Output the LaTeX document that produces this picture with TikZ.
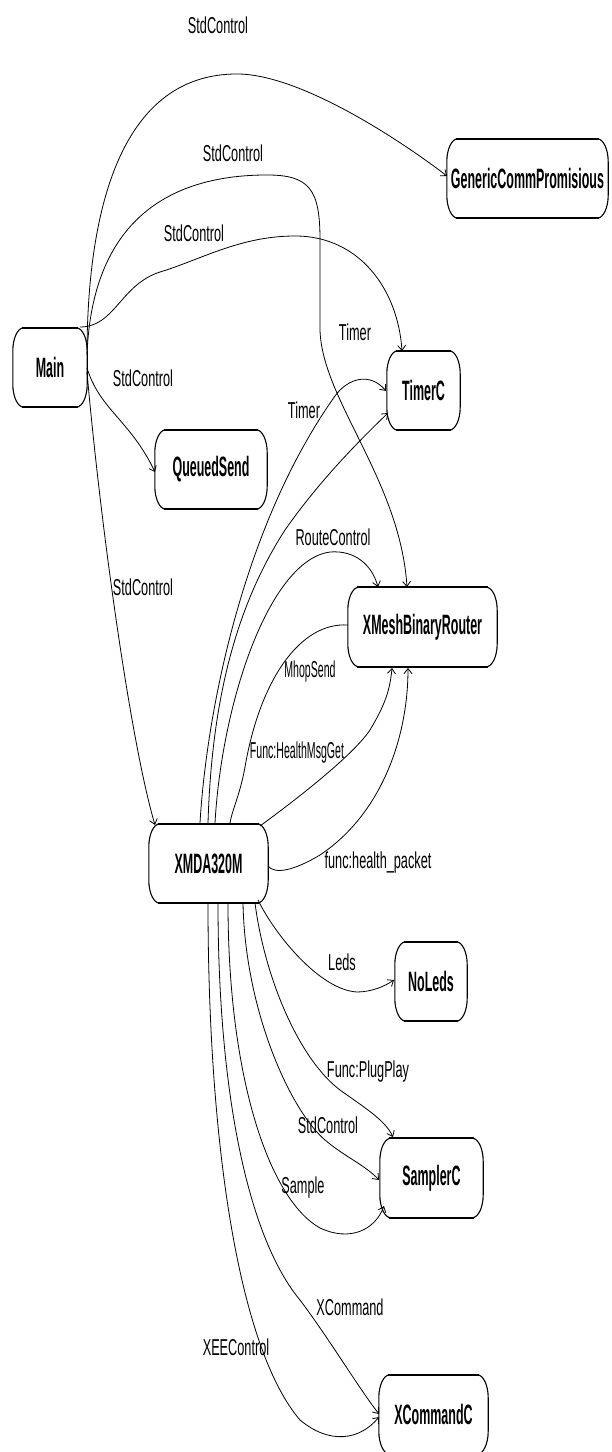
\documentclass[tikz,border=0pt]{standalone}
\usepackage{fontspec}
\usetikzlibrary{arrows.meta}
\newfontfamily\compfont[FakeStretch=0.445]{Liberation Sans}
\newfontfamily\labfont[FakeStretch=0.553]{Liberation Sans}
\newfontfamily\labfontn[FakeStretch=0.46]{Liberation Sans}
\newcommand\compoutline[1]{%
  \draw[boxline] ([xshift=11pt]#1.north west) -- ([xshift=-11pt]#1.north east)
    arc[start angle=90, end angle=0, x radius=11pt, y radius=23pt]
    -- ([yshift=23pt]#1.south east)
    arc[start angle=0, end angle=-90, x radius=11pt, y radius=23pt]
    -- ([xshift=11pt]#1.south west)
    arc[start angle=-90, end angle=-180, x radius=11pt, y radius=23pt]
    -- ([yshift=-23pt]#1.north west)
    arc[start angle=180, end angle=90, x radius=11pt, y radius=23pt] -- cycle;
  \draw[boxedge] ([xshift=9pt]#1.north west) -- ([xshift=-9pt]#1.north east);
  \draw[boxedge] ([xshift=9pt]#1.south west) -- ([xshift=-9pt]#1.south east);}
\tikzset{
  comp/.style={inner sep=0pt, minimum height=79pt,
    font=\compfont\bfseries\fontsize{28}{30}\selectfont},
  boxline/.style={line width=1.1pt, black},
  boxedge/.style={line width=2pt, black},
  lab/.style={inner sep=0pt, font=\labfont\fontsize{23}{25}\selectfont},
  labn/.style={inner sep=0pt, font=\labfontn\fontsize{23}{25}\selectfont},
  edge/.style={line width=0.8pt, black},
  arr/.style={-{Straight Barb[length=5pt,width=8pt]}}
}
\begin{document}
\begin{tikzpicture}[x=1pt,y=1pt]
\useasboundingbox (0,0) rectangle (612,1452);
\fill[white] (0,0) rectangle (612,1452);

% components
\node[comp, minimum width=74pt]  (Main)  at (50,1084.5)  {Main};
\node[comp, minimum width=161pt] (GCP)   at (527.5,1273.5) {GenericCommPromisious};
\node[comp, minimum width=73pt]  (TimerC) at (423.5,1061.5) {TimerC};
\node[comp, minimum width=112pt] (QS)    at (211,982.5)  {QueuedSend};
\node[comp, minimum width=149pt] (XMBR)  at (422.5,825)  {XMeshBinaryRouter};
\node[comp, minimum width=119pt] (XMDA)  at (208.5,588.5) {XMDA320M};
\node[comp, minimum width=72pt]  (NoLeds) at (431,470.5) {NoLeds};
\node[comp, minimum width=103pt] (Sampler) at (431.5,274) {SamplerC};
\node[comp, minimum width=109pt] (XCmd)  at (433.5,37.5) {XCommandC};
\foreach \n in {Main,GCP,TimerC,QS,XMBR,XMDA,NoLeds,Sampler,XCmd}{\compoutline{\n}}

% edges from Main
\draw[edge,arr] ([shift={(37,17.5)}]Main.center) .. controls (88,1252) and (125,1378) .. (237,1378)
  .. controls (300,1378) and (400,1312) .. ([shift={(-80.5,2.5)}]GCP.center);
\draw[edge,arr] ([shift={(37,12.5)}]Main.center) .. controls (92,1232) and (170,1277) .. (267,1277)
  .. controls (310,1277) and (320,1262) .. (320,1212) -- (320,1122)
  .. controls (322,1052) and (400,972) .. ([shift={(-15.5,40)}]XMBR.center);
\draw[edge,arr] ([shift={(30,40.5)}]Main.center) .. controls (115,1125) and (120,1167) .. (160,1180)
  .. controls (200,1192) and (240,1216) .. (295,1216)
  .. controls (360,1216) and (398,1162) .. ([shift={(-21.5,39.5)}]TimerC.center);
\draw[edge,arr] ([shift={(37,-0.5)}]Main.center) .. controls (100,1042) and (130,1032) .. ([shift={(-56,-2.5)}]QS.center);
\draw[edge,arr] ([shift={(37,-4.5)}]Main.center) .. controls (100,932) and (130,712) .. ([shift={(-53.5,38.5)}]XMDA.center);

% edges from XMDA320M upwards
\draw[edge,arr] ([shift={(-8.5,40.5)}]XMDA.center) .. controls (206,732) and (240,922) .. (335,1056)
  .. controls (348,1074) and (370,1080) .. ([shift={(-37.5,-0.5)}]TimerC.center);
\draw[edge,arr] ([shift={(-0.5,40.5)}]XMDA.center) .. controls (212,762) and (240,852) .. (285,922)
  .. controls (320,972) and (360,1012) .. ([shift={(-35.5,-22.5)}]TimerC.center);
\draw[edge,arr] ([shift={(6.5,40.5)}]XMDA.center) .. controls (222,752) and (270,892) .. (330,900)
  .. controls (355,902) and (372,887) .. ([shift={(-44.5,40)}]XMBR.center);
\draw[edge] ([shift={(-74.5,2)}]XMBR.center) .. controls (300,830) and (260,772) .. (245,685)
  .. controls (240,657) and (232,642) .. ([shift={(21.5,40.5)}]XMDA.center);
\draw[edge,arr] ([shift={(51.5,37.5)}]XMDA.center) .. controls (275,637) and (350,692) .. (370,722)
  .. controls (385,747) and (390,762) .. ([shift={(-30.5,-41)}]XMBR.center);
\draw[edge,arr] ([shift={(59.5,-2.5)}]XMDA.center) .. controls (275,577) and (295,582) .. (320,597)
  .. controls (380,637) and (408,712) .. ([shift={(-14.5,-41)}]XMBR.center);

% edges from XMDA320M downwards
\draw[edge,arr] ([shift={(49.5,-36.5)}]XMDA.center) .. controls (275,517) and (320,462) .. (357,460)
  .. controls (372,460) and (385,466) .. ([shift={(-37,1.5)}]NoLeds.center);
\draw[edge,arr] ([shift={(46.5,-39.5)}]XMDA.center) .. controls (265,472) and (300,392) .. (340,362)
  .. controls (365,344) and (385,332) .. ([shift={(-38.5,41)}]Sampler.center);
\draw[edge,arr] ([shift={(34.5,-39.5)}]XMDA.center) .. controls (245,442) and (290,342) .. (325,312)
  .. controls (345,295) and (365,287) .. ([shift={(-52.5,-2)}]Sampler.center);
\draw[edge,arr] ([shift={(19.5,-39.5)}]XMDA.center) .. controls (228,372) and (270,252) .. (320,224)
  .. controls (350,210) and (375,222) .. ([shift={(-47.5,-28)}]Sampler.center);
\draw[edge,arr] ([shift={(9.5,-39.5)}]XMDA.center) .. controls (218,352) and (250,212) .. (300,152)
  .. controls (330,112) and (360,62) .. ([shift={(-54.5,0.5)}]XCmd.center);
\draw[edge,arr] ([shift={(-0.5,-39.5)}]XMDA.center) .. controls (208,302) and (240,102) .. (300,32)
  .. controls (330,7) and (360,12) .. ([shift={(-54.5,-2.5)}]XCmd.center);

% labels
\node[lab] (l1) at (218,1427) {StdControl};
\node[lab] (l2) at (233,1299) {StdControl};
\node[lab] (l3) at (194,1219) {StdControl};
\node[lab] (l4) at (143,1074) {StdControl};
\node[lab] (l5) at (355,1120) {Timer};
\node[lab] (l6) at (304,1042) {Timer};
\node[lab] (l7) at (143,865) {StdControl};
\node[lab] (l8) at (333,915) {RouteControl};
\node[labn] (l9) at (310,780) {MhopSend};
\node[labn] (l10) at (297,699) {Func:HealthMsgGet};
\node[lab] (l11) at (378,589) {func:health\_packet};
\node[lab] (l12) at (342,490) {Leds};
\node[lab] (l13) at (368,380) {Func:PlugPlay};
\node[lab] (l14) at (328,327) {StdControl};
\node[lab] (l15) at (303,264) {Sample};
\node[lab] (l16) at (350,145) {XCommand};
\node[lab] (l17) at (236,105) {XEEControl};
\end{tikzpicture}
\end{document}
